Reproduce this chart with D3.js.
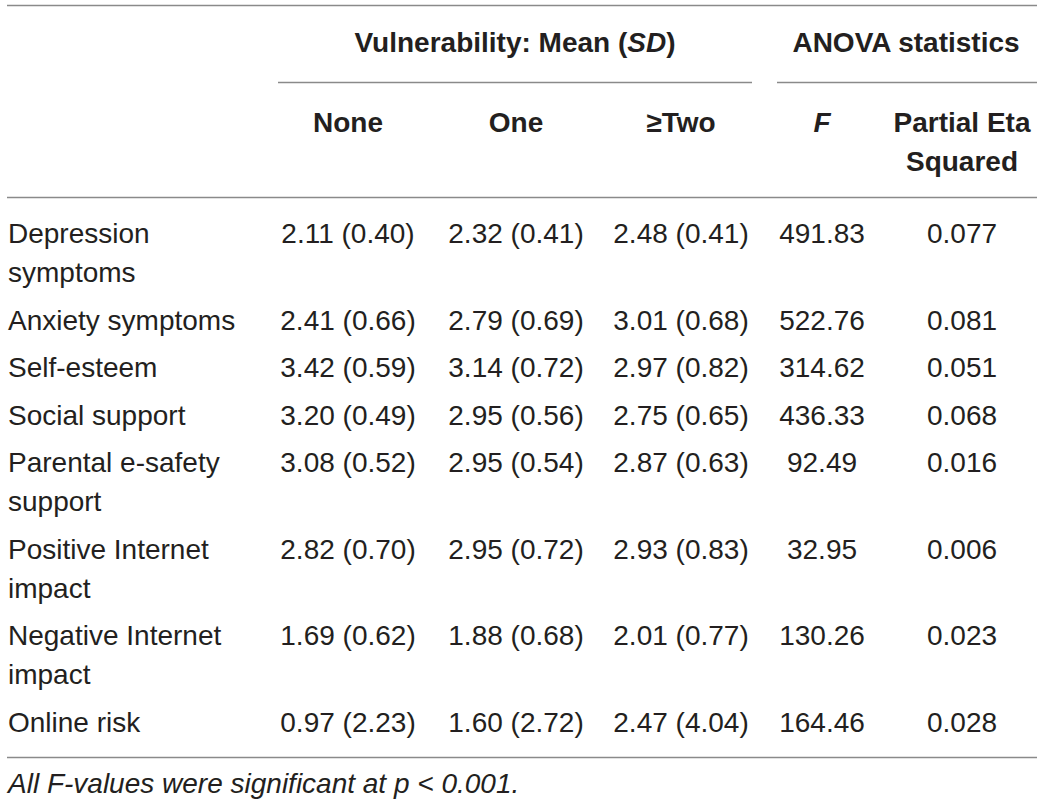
<!DOCTYPE html>
<html>
<head>
<meta charset="utf-8">
<script src="https://cdn.jsdelivr.net/npm/d3@7"></script>
<style>
  body { margin: 0; background: #fff; }
  text { font-family: "Liberation Sans", Arial, sans-serif; fill: #231f20; }
</style>
</head>
<body>
<div class="chart"></div>
<script>
// table data
const rowLabels = [
  ["Depression", "symptoms"],
  ["Anxiety symptoms"],
  ["Self-esteem"],
  ["Social support"],
  ["Parental e-safety", "support"],
  ["Positive Internet", "impact"],
  ["Negative Internet", "impact"],
  ["Online risk"]
];
const meanNone = ["2.11 (0.40)", "2.41 (0.66)", "3.42 (0.59)", "3.20 (0.49)", "3.08 (0.52)", "2.82 (0.70)", "1.69 (0.62)", "0.97 (2.23)"];
const meanOne  = ["2.32 (0.41)", "2.79 (0.69)", "3.14 (0.72)", "2.95 (0.56)", "2.95 (0.54)", "2.95 (0.72)", "1.88 (0.68)", "1.60 (2.72)"];
const meanTwo  = ["2.48 (0.41)", "3.01 (0.68)", "2.97 (0.82)", "2.75 (0.65)", "2.87 (0.63)", "2.93 (0.83)", "2.01 (0.77)", "2.47 (4.04)"];
const fValues  = ["491.83", "522.76", "314.62", "436.33", "92.49", "32.95", "130.26", "164.46"];
const etaValues = ["0.077", "0.081", "0.051", "0.068", "0.016", "0.006", "0.023", "0.028"];
const columnKeys = ["none", "one", "two", "f", "eta"];
const columnHeads = [["None"], ["One"], ["≥Two"], ["F"], ["Partial Eta", "Squared"]];
const groupHeads = ["Vulnerability: Mean (SD)", "ANOVA statistics"];
const footnote = "All F-values were significant at p < 0.001.";

function init(){
    const w = 1042, h = 806;
    const fs = 28;
    const lineStep = 39, rowStep = 47.5;

    const svg = d3.select(".chart").append("svg").attr("width", w).attr("height", h);

    // column centres
    const x = d3.scaleOrdinal().domain(columnKeys).range([348, 516, 681, 822, 962]);
    const columns = [meanNone, meanOne, meanTwo, fValues, etaValues];

    // row baselines, rows with wrapped labels take more room
    let baselines = [];
    let yPos = 243;
    rowLabels.forEach(function(lines){
        baselines.push(yPos);
        yPos += (lines.length - 1) * lineStep + rowStep;
    });
    const y = d3.scaleOrdinal().domain(d3.range(rowLabels.length)).range(baselines);

    const rule = function(x1, x2, yy, wd){
        svg.append("line").attr("x1", x1).attr("x2", x2).attr("y1", yy).attr("y2", yy)
        .style("stroke", "#8a8a8a").style("stroke-width", wd);
    };
    rule(7, 1037, 5.5, 1.6);
    rule(278, 752, 82.5, 1.4);
    rule(777, 1037, 82.5, 1.4);
    rule(7, 1037, 197.5, 1.6);
    rule(7, 1037, 757.5, 1.6);

    // group headings
    const g1 = svg.append("text").attr("x", 515).attr("y", 52).attr("text-anchor", "middle")
      .attr("font-size", fs).attr("font-weight", "bold");
    g1.append("tspan").text("Vulnerability: Mean (");
    g1.append("tspan").attr("font-style", "italic").text("SD");
    g1.append("tspan").text(")");
    svg.append("text").attr("x", 906).attr("y", 52).attr("text-anchor", "middle")
      .attr("font-size", fs).attr("font-weight", "bold").text(groupHeads[1]);

    // column headings
    columnKeys.forEach(function(k, i){
        columnHeads[i].forEach(function(t, j){
            svg.append("text").attr("x", x(k)).attr("y", 132 + j * lineStep)
              .attr("text-anchor", "middle").attr("font-size", fs).attr("font-weight", "bold")
              .attr("font-style", k == "f" ? "italic" : "normal")
              .text(t);
        });
    });

    // row labels
    rowLabels.forEach(function(lines, i){
        lines.forEach(function(t, j){
            svg.append("text").attr("x", 8).attr("y", y(i) + j * lineStep)
              .attr("font-size", fs).text(t);
        });
    });

    // cells
    columns.forEach(function(col, c){
        svg.selectAll(".cell-" + c)
          .data(col)
          .join("text")
          .attr("class", "cell-" + c)
          .attr("x", x(columnKeys[c]))
          .attr("y", function(d, i){ return y(i); })
          .attr("text-anchor", "middle")
          .attr("font-size", fs)
          .text(function(d){ return d; });
    });

    svg.append("text").attr("x", 8).attr("y", 793).attr("font-size", fs)
      .attr("font-style", "italic").text(footnote);
}
window.onload = init();
</script>
</body>
</html>
